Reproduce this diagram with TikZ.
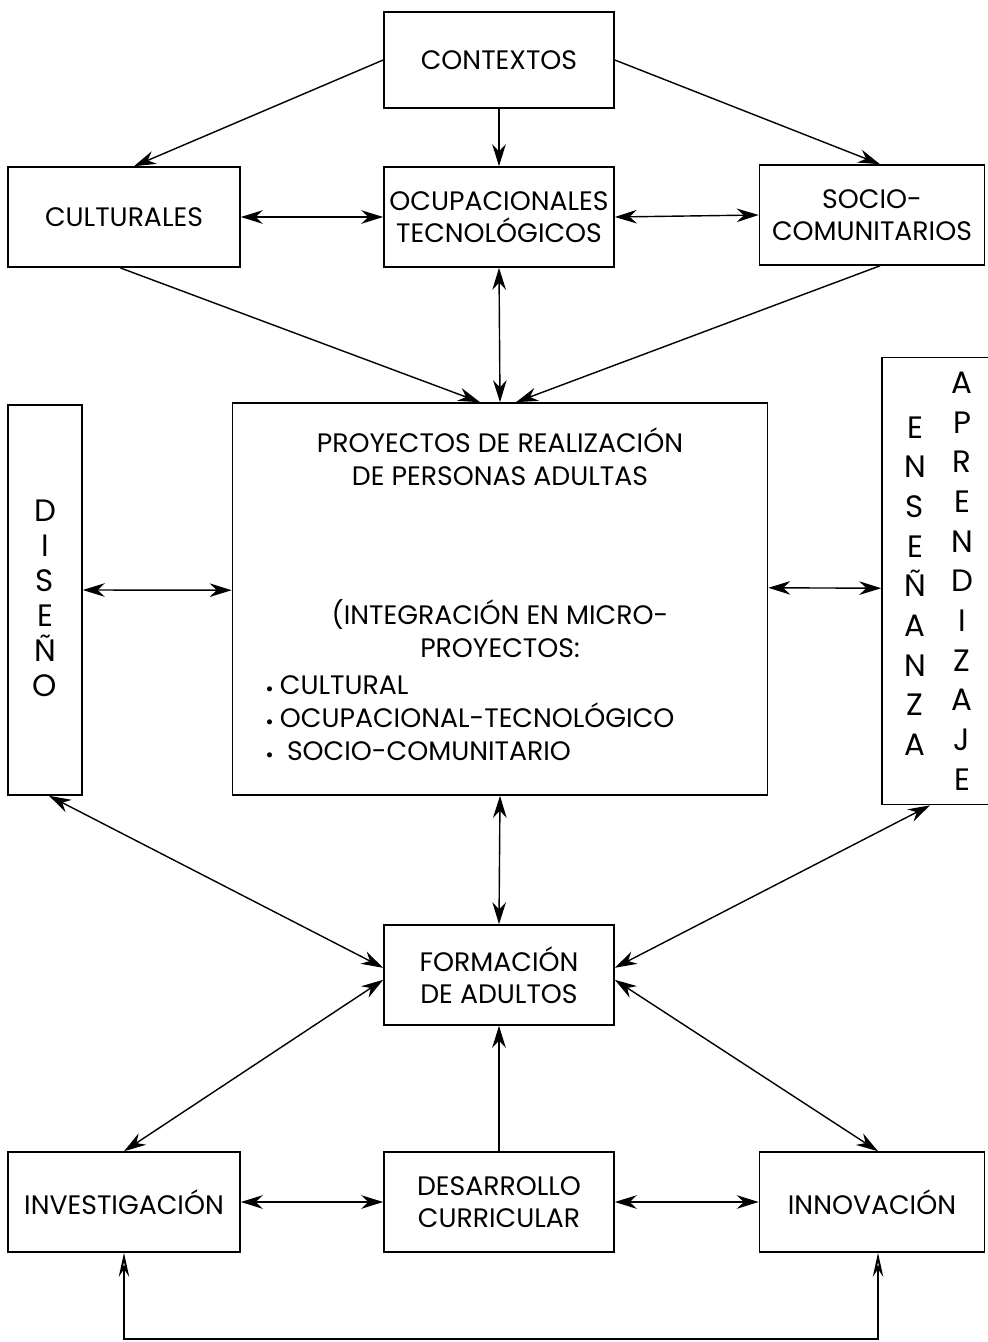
\documentclass[tikz,border=0pt]{standalone}
\usepackage{fontspec}
\setmainfont{Poppins}
\usetikzlibrary{arrows.meta}

\begin{document}
\begin{tikzpicture}[x=0.025cm,y=-0.025cm,
  >={Stealth[length=5.5mm,width=3.4mm]},
  caja/.style={draw,line width=1.1pt,inner sep=0pt,font=\fontsize{19}{22.5}\selectfont,align=center},
  texto/.style={inner sep=0pt,font=\fontsize{19}{23.5}\selectfont},
  letras/.style={inner sep=0pt,align=center,font=\fontsize{22}{28.2}\selectfont},
  flecha/.style={line width=1pt}]
\useasboundingbox (0,0) rectangle (987,1342);

\node (ctx) at (499,60) [caja,minimum width=5.75cm,minimum height=2.4cm]{CONTEXTOS};
\node (cul) at (124,217) [caja,minimum width=5.8cm,minimum height=2.5cm]{CULTURALES};
\node (ocu) at (499,217) [caja,minimum width=5.75cm,minimum height=2.5cm]{OCUPACIONALES\\TECNOLÓGICOS};
\node (soc) at (872,215) [caja,minimum width=5.625cm,minimum height=2.5cm]{SOCIO-\\COMUNITARIOS};

\node (dis) at (45,600) [caja,minimum width=1.85cm,minimum height=9.75cm]{};
\node (disl) at (45,598) [letras,font=\fontsize{22}{24.9}\selectfont]{D\\I\\S\\E\\Ñ\\O};
\node (pro) at (500,599) [caja,minimum width=13.375cm,minimum height=9.8cm]{};
\node (protit) at (500,457) [texto,align=center]{PROYECTOS DE REALIZACIÓN\\DE PERSONAS ADULTAS};
\node (prosub) at (500,629) [texto,align=center]{(INTEGRACIÓN EN MICRO-\\PROYECTOS:};
\node (prolis) at (266,718) [texto,anchor=west,align=left]{\raisebox{0.15ex}{\small$\bullet$}\ CULTURAL\\\raisebox{0.15ex}{\small$\bullet$}\ OCUPACIONAL-TECNOLÓGICO\\\raisebox{0.15ex}{\small$\bullet$}\ \ SOCIO-COMUNITARIO};
\node (ens) at (936,581) [caja,minimum width=2.7cm,minimum height=11.175cm]{};
\node (ensl) at (915,586) [letras]{E\\N\\S\\E\\Ñ\\A\\N\\Z\\A};
\node (apr) at (962,581) [letras]{A\\P\\R\\E\\N\\D\\I\\Z\\A\\J\\E};

\node (for) at (499,975) [caja,minimum width=5.75cm,minimum height=2.5cm]{FORMACIÓN\\DE ADULTOS};
\node (inv) at (124,1202) [caja,minimum width=5.8cm,minimum height=2.5cm]{INVESTIGACIÓN};
\node (des) at (499,1202) [caja,minimum width=5.75cm,minimum height=2.5cm]{DESARROLLO\\CURRICULAR};
\node (inn) at (872,1202) [caja,minimum width=5.625cm,minimum height=2.5cm]{INNOVACIÓN};

\draw[flecha,->] (ctx.west) -- ([xshift=0.25cm]cul.north);
\draw[flecha,->] (ctx.south) -- (ocu.north);
\draw[flecha,->] (ctx.east) -- ([xshift=0.2cm]soc.north);
\draw[flecha,<->] (cul.east) -- (ocu.west);
\draw[flecha,<->] (ocu.east) -- (soc.west);
\draw[flecha,->] ([xshift=-0.1cm]cul.south) -- ([xshift=-0.5cm]pro.north);
\draw[flecha,<->] (ocu.south) -- (pro.north);
\draw[flecha,->] ([xshift=0.2cm]soc.south) -- ([xshift=0.4cm]pro.north);
\draw[flecha,<->] ([yshift=0.25cm]dis.east) -- ([yshift=0.22cm]pro.west);
\draw[flecha,<->] ([yshift=0.28cm]pro.east) -- ([yshift=-0.18cm]ens.west);
\draw[flecha,<->] ([xshift=0.1cm]dis.south) -- ([yshift=0.18cm]for.west);
\draw[flecha,<->] ([xshift=-0.15cm]ens.south) -- ([yshift=0.18cm]for.east);
\draw[flecha,<->] (pro.south) -- (for.north);
\draw[flecha,<->] ([yshift=-0.12cm]for.west) -- (inv.north);
\draw[flecha,<->] ([yshift=-0.12cm]for.east) -- ([xshift=0.15cm]inn.north);
\draw[flecha,->] (des.north) -- (for.south);
\draw[flecha,<->] (inv.east) -- (des.west);
\draw[flecha,<->] (des.east) -- (inn.west);
\draw[flecha,line width=1.4pt,{Stealth[open,length=6mm,width=2.6mm]}-{Stealth[open,length=6mm,width=2.6mm]}] (inv.south) -- ++(0,86) -| ([xshift=0.15cm]inn.south);

\end{tikzpicture}
\end{document}
